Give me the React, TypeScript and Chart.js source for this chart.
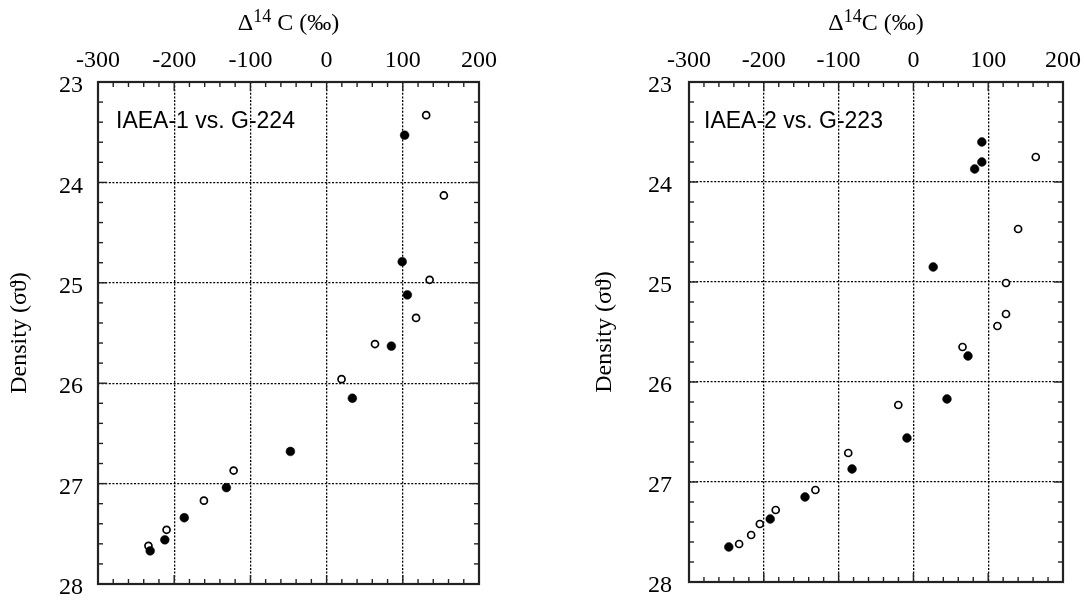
import React, { useEffect, useRef } from "react";
import { Chart, registerables } from "chart.js";

Chart.register(...registerables);

// ---- data ----
const xTickRange = [-300, 200];
const yTickRange = [23, 28];
const xMajorStep = 100;
const yMajorStep = 1;
const xMinorStep = 20;
const yMinorStep = 0.2;

const panel1Label = "IAEA-1 vs. G-224";
const panel1FilledX = [102.4, 99.2, 106, 85, 33.8, -47.5, -131.5, -186.8, -212.3, -231.5];
const panel1FilledY = [23.53, 24.79, 25.12, 25.63, 26.15, 26.68, 27.04, 27.34, 27.56, 27.67];
const panel1OpenX = [130.7, 153.9, 135.2, 117.4, 63.5, 19.6, -122, -161, -210, -233.8];
const panel1OpenY = [23.33, 24.13, 24.97, 25.35, 25.61, 25.96, 26.87, 27.17, 27.46, 27.62];

const panel2Label = "IAEA-2 vs. G-223";
const panel2FilledX = [91.5, 91.5, 81.9, 26.5, 73, 44.9, -8.6, -82, -144.9, -191.4, -246.8];
const panel2FilledY = [23.6, 23.8, 23.87, 24.85, 25.74, 26.17, 26.56, 26.87, 27.15, 27.37, 27.65];
const panel2OpenX = [163.6, 140, 123.8, 123.8, 112.3, 65.7, -20.2, -87.1, -131, -184.1, -205.3, -216.9, -233];
const panel2OpenY = [23.75, 24.47, 25.01, 25.32, 25.44, 25.65, 26.23, 26.71, 27.08, 27.28, 27.42, 27.53, 27.62];

const yTitle = "Density (σϑ)";
const xTitleMain = "Δ";
const xTitleSup = "14";
const xTitleRest = "C (‰)";

const SERIF = '"Liberation Serif", "Times New Roman", serif';
const SANS = '"Liberation Sans", Arial, sans-serif';

function pts(xs: number[], ys: number[]) {
  return xs.map((x, i) => ({ x, y: ys[i] }));
}

const framePlugin = {
  id: "frameTicks",
  afterDatasetsDraw(chart: any, _args: any, opts: any) {
    const { ctx, chartArea: a, scales } = chart;
    const xs = scales.x;
    const ys = scales.y;
    ctx.save();
    ctx.strokeStyle = "#222";
    ctx.lineWidth = 1.4;
    const line = (x1: number, y1: number, x2: number, y2: number) => {
      ctx.beginPath();
      ctx.moveTo(x1, y1);
      ctx.lineTo(x2, y2);
      ctx.stroke();
    };
    const nx = Math.round((xTickRange[1] - xTickRange[0]) / xMinorStep);
    for (let i = 0; i <= nx; i++) {
      const v = xTickRange[0] + i * xMinorStep;
      const px = xs.getPixelForValue(v);
      const len = Math.abs(v % xMajorStep) < 1e-6 ? 9 : 5;
      line(px, a.top, px, a.top + len);
      line(px, a.bottom, px, a.bottom - len);
    }
    const ny = Math.round((yTickRange[1] - yTickRange[0]) / yMinorStep);
    for (let i = 0; i <= ny; i++) {
      const py = ys.getPixelForValue(yTickRange[0] + i * yMinorStep);
      const len = i % 5 === 0 ? 9 : 5;
      line(a.left, py, a.left + len, py);
      line(a.right, py, a.right - len, py);
    }
    ctx.lineWidth = 2.2;
    ctx.strokeRect(a.left, a.top, a.right - a.left, a.bottom - a.top);

    // panel label
    ctx.fillStyle = "#000";
    ctx.font = `23px ${SANS}`;
    ctx.textBaseline = "middle";
    ctx.textAlign = "left";
    ctx.fillText(opts.label, a.left + opts.labelDx, 122);

    // x title with superscript
    const cx = (a.left + a.right) / 2;
    const mainFont = `24px ${SERIF}`;
    const supFont = `18px ${SERIF}`;
    ctx.textBaseline = "alphabetic";
    ctx.font = mainFont;
    const w1 = ctx.measureText(xTitleMain).width;
    const rest = (opts.gap ? " " : "") + xTitleRest;
    const w3 = ctx.measureText(rest).width;
    ctx.font = supFont;
    const w2 = ctx.measureText(xTitleSup).width;
    let sx = cx - (w1 + w2 + w3) / 2;
    ctx.font = mainFont;
    ctx.fillText(xTitleMain, sx, 30);
    sx += w1;
    ctx.font = supFont;
    ctx.fillText(xTitleSup, sx, 22);
    sx += w2;
    ctx.font = mainFont;
    ctx.fillText(rest, sx, 30);
    ctx.restore();
  },
};

function makeConfig(p: {
  filled: { x: number; y: number }[];
  open: { x: number; y: number }[];
  label: string;
  yWidth: number;
  padRight: number;
  padBottom: number;
  titlePad: number;
  labelPad: number;
  labelDx: number;
  gap: boolean;
}): any {
  return {
    type: "scatter",
    data: {
      datasets: [
        {
          data: p.filled,
          pointRadius: 4.4,
          pointBackgroundColor: "#000",
          pointBorderColor: "#000",
          pointBorderWidth: 0.5,
          showLine: false,
        },
        {
          data: p.open,
          pointRadius: 3.5,
          pointBackgroundColor: "#fff",
          pointBorderColor: "#000",
          pointBorderWidth: 1.7,
          showLine: false,
        },
      ],
    },
    options: {
      responsive: false,
      animation: false,
      events: [],
      layout: { padding: { left: 0, top: 0, right: p.padRight, bottom: p.padBottom } },
      plugins: {
        legend: { display: false },
        tooltip: { enabled: false },
        frameTicks: { label: p.label, labelDx: p.labelDx, gap: p.gap },
      },
      scales: {
        x: {
          type: "linear",
          position: "top",
          min: xTickRange[0],
          max: xTickRange[1],
          ticks: {
            stepSize: xMajorStep,
            color: "#000",
            font: { family: SERIF, size: 24 },
            padding: 7,
            maxRotation: 0,
          },
          grid: { color: "#000", lineWidth: 1.3, drawTicks: false },
          border: { display: false, dash: [2, 1.6] },
          afterFit: (s: any) => {
            s.height = 82;
            s.paddingLeft = 0;
            s.paddingRight = 0;
          },
        },
        y: {
          type: "linear",
          position: "left",
          reverse: true,
          min: yTickRange[0],
          max: yTickRange[1],
          ticks: {
            stepSize: yMajorStep,
            color: "#000",
            font: { family: SERIF, size: 24 },
            padding: p.labelPad,
            labelOffset: 4,
          },
          grid: { color: "#000", lineWidth: 1.3, drawTicks: false },
          border: { display: false, dash: [2, 1.6] },
          title: {
            display: true,
            text: yTitle,
            color: "#000",
            font: { family: SERIF, size: 24 },
            padding: { top: p.titlePad, bottom: 0 },
          },
          afterFit: (s: any) => {
            s.width = p.yWidth;
            s.paddingTop = 0;
            s.paddingBottom = 0;
          },
        },
      },
    },
    plugins: [framePlugin],
  };
}

export default function App() {
  const ref1 = useRef<HTMLCanvasElement>(null);
  const ref2 = useRef<HTMLCanvasElement>(null);
  useEffect(() => {
    const c1 = new Chart(
      ref1.current!,
      makeConfig({
        filled: pts(panel1FilledX, panel1FilledY),
        open: pts(panel1OpenX, panel1OpenY),
        label: panel1Label,
        yWidth: 98,
        padRight: 63,
        padBottom: 16,
        titlePad: 5.6,
        labelPad: 15,
        labelDx: 18,
        gap: true,
      })
    );
    const c2 = new Chart(
      ref2.current!,
      makeConfig({
        filled: pts(panel2FilledX, panel2FilledY),
        open: pts(panel2OpenX, panel2OpenY),
        label: panel2Label,
        yWidth: 147,
        padRight: 21,
        padBottom: 18,
        titlePad: 48.6,
        labelPad: 17,
        labelDx: 15,
        gap: false,
      })
    );
    return () => {
      c1.destroy();
      c2.destroy();
    };
  }, []);
  return (
    <div style={{ position: "absolute", left: 0, top: 0, width: 1084, height: 600, background: "#fff" }}>
      <canvas ref={ref1} width={542} height={600} style={{ position: "absolute", left: 0, top: 0, width: 542, height: 600 }} />
      <canvas ref={ref2} width={542} height={600} style={{ position: "absolute", left: 542, top: 0, width: 542, height: 600 }} />
    </div>
  );
}
